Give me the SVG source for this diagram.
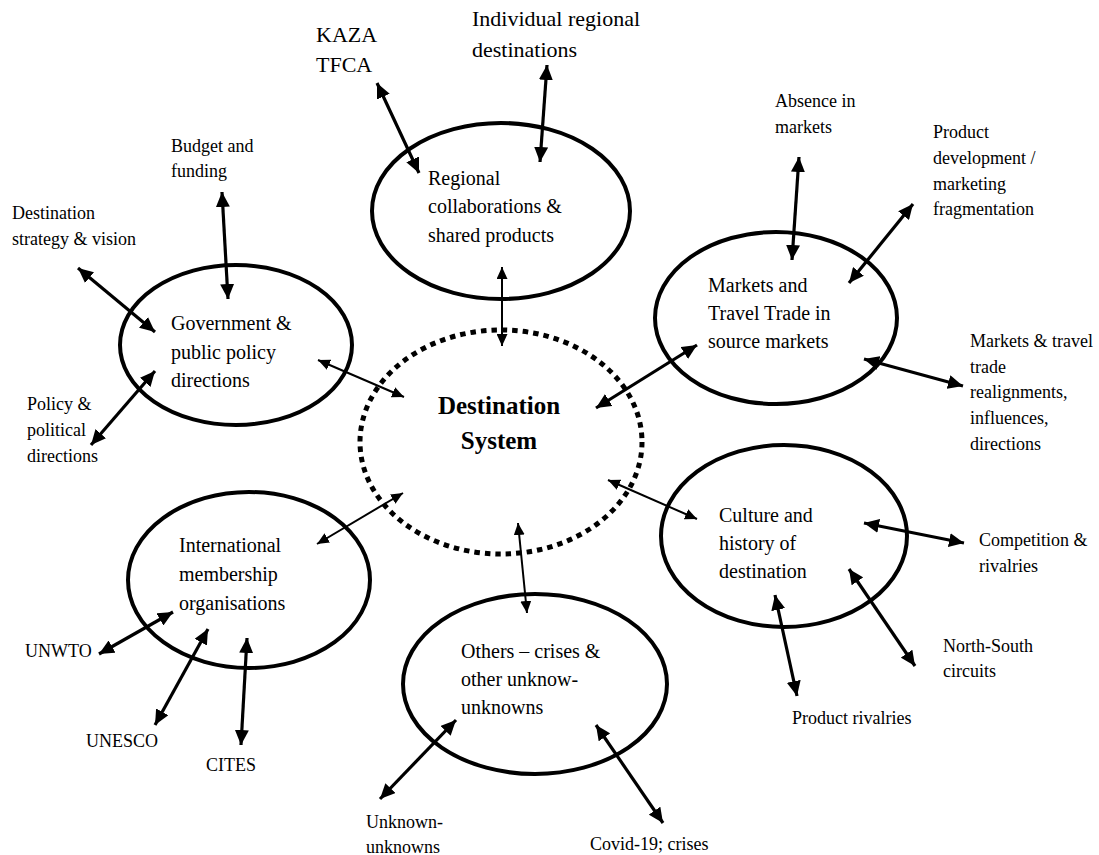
<svg xmlns="http://www.w3.org/2000/svg" width="1099" height="855" viewBox="0 0 1099 855" font-family="'Liberation Serif', 'Times New Roman', 'DejaVu Serif', serif">
<style>
  .node ellipse { fill: none; stroke: #000; stroke-width: 4; }
  .dash { fill: none; stroke: #000; stroke-width: 5; stroke-dasharray: 5.5 5; }
  text { fill: #000; }
  .nt { font-size: 20px; }
  .lb { font-size: 18px; }
  .big { font-size: 22px; }
  .title { font-size: 25px; font-weight: bold; }
  .thick { stroke: #000; stroke-width: 3.2; fill: none; marker-start: url(#ah); marker-end: url(#ah); }
  .thin { stroke: #000; stroke-width: 2; fill: none; marker-start: url(#as); marker-end: url(#as); }
</style>
<defs>
  <marker id="ah" markerUnits="userSpaceOnUse" markerWidth="16" markerHeight="14" refX="15" refY="7" orient="auto-start-reverse">
    <path d="M0,0 L15,7 L0,14 z" fill="#000"/>
  </marker>
  <marker id="as" markerUnits="userSpaceOnUse" markerWidth="13" markerHeight="11" refX="12" refY="5.5" orient="auto-start-reverse">
    <path d="M0,0 L12,5.5 L0,11 z" fill="#000"/>
  </marker>
</defs>
<rect width="1099" height="855" fill="#fff"/>

<g id="destination-system" class="node">
  <ellipse class="dash" cx="501" cy="442" rx="141" ry="112" style="stroke-width:5"/>
  <text class="title" x="499" y="414" text-anchor="middle">Destination</text>
  <text class="title" x="499" y="449" text-anchor="middle">System</text>
</g>

<g id="regional" class="node">
  <ellipse cx="501" cy="211" rx="129" ry="88"/>
  <text class="nt" x="428" y="185">Regional</text>
  <text class="nt" x="428" y="213">collaborations &amp;</text>
  <text class="nt" x="428" y="242">shared products</text>
</g>

<g id="government" class="node">
  <ellipse cx="236" cy="345" rx="116" ry="80"/>
  <text class="nt" x="171" y="330">Government &amp;</text>
  <text class="nt" x="171" y="359">public policy</text>
  <text class="nt" x="171" y="387">directions</text>
</g>

<g id="markets" class="node">
  <ellipse cx="776" cy="318" rx="121" ry="86"/>
  <text class="nt" x="708" y="292">Markets and</text>
  <text class="nt" x="708" y="320">Travel Trade in</text>
  <text class="nt" x="708" y="348">source markets</text>
</g>

<g id="international" class="node">
  <ellipse cx="249" cy="580" rx="121" ry="88"/>
  <text class="nt" x="179" y="552">International</text>
  <text class="nt" x="179" y="581">membership</text>
  <text class="nt" x="179" y="610">organisations</text>
</g>

<g id="others" class="node">
  <ellipse cx="535" cy="684" rx="132" ry="90"/>
  <text class="nt" x="461" y="658">Others – crises &amp;</text>
  <text class="nt" x="461" y="686">other unknow-</text>
  <text class="nt" x="461" y="714">unknowns</text>
</g>

<g id="culture" class="node">
  <ellipse cx="784" cy="536" rx="123" ry="91"/>
  <text class="nt" x="719" y="522">Culture and</text>
  <text class="nt" x="719" y="550">history of</text>
  <text class="nt" x="719" y="578">destination</text>
</g>

<g id="labels">
  <g id="lbl-kaza"><text class="big" x="316" y="42">KAZA</text><text class="big" x="316" y="72">TFCA</text></g>
  <g id="lbl-individual"><text class="big" x="472" y="26">Individual regional</text><text class="big" x="472" y="57">destinations</text></g>
  <g id="lbl-budget"><text class="lb" x="171" y="152">Budget and</text><text class="lb" x="171" y="177">funding</text></g>
  <g id="lbl-strategy"><text class="lb" x="12" y="219">Destination</text><text class="lb" x="12" y="245">strategy &amp; vision</text></g>
  <g id="lbl-policy"><text class="lb" x="27" y="410">Policy &amp;</text><text class="lb" x="27" y="436">political</text><text class="lb" x="27" y="462">directions</text></g>
  <g id="lbl-absence"><text class="lb" x="775" y="107">Absence in</text><text class="lb" x="775" y="133">markets</text></g>
  <g id="lbl-productdev"><text class="lb" x="933" y="138">Product</text><text class="lb" x="933" y="164">development /</text><text class="lb" x="933" y="190">marketing</text><text class="lb" x="933" y="215">fragmentation</text></g>
  <g id="lbl-realign"><text class="lb" x="970" y="347">Markets &amp; travel</text><text class="lb" x="970" y="373">trade</text><text class="lb" x="970" y="398">realignments,</text><text class="lb" x="970" y="424">influences,</text><text class="lb" x="970" y="450">directions</text></g>
  <g id="lbl-competition"><text class="lb" x="979" y="546">Competition &amp;</text><text class="lb" x="979" y="572">rivalries</text></g>
  <g id="lbl-northsouth"><text class="lb" x="943" y="652">North-South</text><text class="lb" x="943" y="677">circuits</text></g>
  <g id="lbl-productriv"><text class="lb" x="792" y="724">Product rivalries</text></g>
  <g id="lbl-covid"><text class="lb" x="590" y="850">Covid-19; crises</text></g>
  <g id="lbl-unknown"><text class="lb" x="366" y="828">Unknown-</text><text class="lb" x="366" y="853">unknowns</text></g>
  <g id="lbl-unwto"><text class="lb" x="25" y="657">UNWTO</text></g>
  <g id="lbl-unesco"><text class="lb" x="86" y="747">UNESCO</text></g>
  <g id="lbl-cites"><text class="lb" x="206" y="771">CITES</text></g>
</g>

<g id="connectors">
  <line class="thick" x1="377" y1="83" x2="419" y2="173"/>
  <line class="thick" x1="547" y1="65" x2="540" y2="162"/>
  <line class="thick" x1="222" y1="192" x2="228" y2="299"/>
  <line class="thick" x1="78" y1="268" x2="155" y2="332"/>
  <line class="thick" x1="91" y1="445" x2="155" y2="371"/>
  <line class="thin" x1="318" y1="360" x2="404" y2="397"/>
  <line class="thick" x1="799" y1="157" x2="792" y2="260"/>
  <line class="thick" x1="913" y1="204" x2="849" y2="283"/>
  <line class="thick" x1="864" y1="359" x2="963" y2="386"/>
  <line class="thick" x1="697" y1="345" x2="596" y2="408"/>
  <line class="thin" x1="502" y1="267" x2="502" y2="346"/>
  <line class="thin" x1="317" y1="544" x2="403" y2="493"/>
  <line class="thin" x1="608" y1="480" x2="697" y2="519"/>
  <line class="thin" x1="518" y1="523" x2="527" y2="613"/>
  <line class="thick" x1="99" y1="654" x2="173" y2="612"/>
  <line class="thick" x1="155" y1="725" x2="208" y2="629"/>
  <line class="thick" x1="247" y1="638" x2="241" y2="745"/>
  <line class="thick" x1="380" y1="799" x2="456" y2="720"/>
  <line class="thick" x1="596" y1="725" x2="663" y2="823"/>
  <line class="thick" x1="864" y1="523" x2="964" y2="543"/>
  <line class="thick" x1="849" y1="569" x2="915" y2="666"/>
  <line class="thick" x1="775" y1="595" x2="797" y2="696"/>
</g>
</svg>
